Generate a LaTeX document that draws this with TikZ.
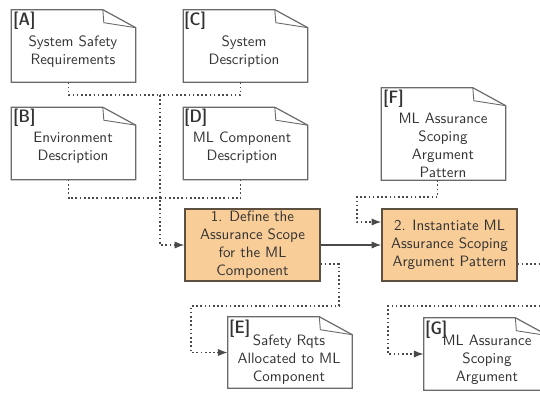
\documentclass[tikz,border=0pt]{standalone}
\usetikzlibrary{arrows.meta,calc}
\renewcommand{\familydefault}{\sfdefault}

\definecolor{inkgray}{HTML}{333333}
\definecolor{framegray}{HTML}{6A6A6A}
\definecolor{wirecolor}{HTML}{4A4A4A}
\definecolor{stepfill}{HTML}{F9CD98}
\definecolor{stepdraw}{HTML}{5E5040}

\tikzset{
  docframe/.style={rectangle, draw=none, inner sep=0pt,
    minimum width=82.7pt, minimum height=48pt},
  docline/.style={draw=framegray, line width=0.8pt},
  flapline/.style={draw=framegray, line width=0.6pt},
  doctext/.style={align=center, text=inkgray, inner sep=0pt, font=\normalsize},
  tagtext/.style={text=inkgray, inner sep=0pt, font=\large\fontseries{sbc}\selectfont},
  stepbox/.style={rectangle, draw=stepdraw, fill=stepfill, line width=0.8pt,
    minimum width=90pt, minimum height=48pt, align=center, text=inkgray,
    inner sep=0pt},
  dotwire/.style={draw=wirecolor, line width=0.9pt, dash pattern=on 1.1pt off 1.7pt},
  flow/.style={-{Latex[length=6.5pt,width=4.8pt]}},
  solidwire/.style={draw=wirecolor, line width=0.9pt}
}

% dog-eared document outline around a docframe node
\newcommand\docoutline[1]{%
  \draw[docline] (#1.north west) -- ([shift={(-33,0)}]#1.north east)
    -- ([shift={(0,18)}]#1.north east) -- (#1.south east)
    -- (#1.south west) -- cycle;
  \draw[flapline] ([shift={(-33,0)}]#1.north east)
    -- ([shift={(-32,13)}]#1.north east) -- ([shift={(0,18)}]#1.north east);
}

\begin{document}
\begin{tikzpicture}[x=0.6667pt, y=-0.6667pt]
\useasboundingbox (0,0) rectangle (540,394);
\clip (0,0) rectangle (540,394);

% input documents
\node[docframe] (A) at (73.5,46) {};
\node[docframe] (C) at (245.5,46) {};
\node[docframe] (B) at (73.5,143.5) {};
\node[docframe] (D) at (245.5,143.5) {};
\node[docframe, minimum height=61.3pt] (F) at (443.5,134) {};
\node[docframe, minimum height=47.3pt] (E) at (290,352.5) {};
\node[docframe] (G) at (486,354) {};

\foreach \d in {A,B,C,D,E,F,G} {\docoutline{\d}}

\node[tagtext, anchor=north west] (A-tag) at (13,12) {[A]};
\node[tagtext, anchor=north west] (B-tag) at (13,109) {[B]};
\node[tagtext, anchor=north west] (C-tag) at (184,12) {[C]};
\node[tagtext, anchor=north west] (D-tag) at (184,109) {[D]};
\node[tagtext, anchor=north west] (F-tag) at (383,90) {[F]};
\node[tagtext, anchor=north west] (E-tag) at (229,320) {[E]};
\node[tagtext, anchor=north west] (G-tag) at (425,321) {[G]};

\node[doctext] (A-txt) at (73,52) {System Safety\\Requirements};
\node[doctext] (C-txt) at (244,52) {System\\Description};
\node[doctext] (B-txt) at (73,148) {Environment\\Description};
\node[doctext] (D-txt) at (242,148) {ML Component\\Description};
\node[doctext] (F-txt) at (443,145) {ML Assurance\\Scoping\\Argument\\Pattern};
\node[doctext] (E-txt) at (289,360) {Safety Rqts\\Allocated to ML\\Component};
\node[doctext] (G-txt) at (487,360) {ML Assurance\\Scoping\\Argument};

% process steps
\node[stepbox] (P1) at (252.5,245) {1. Define the\\Assurance Scope\\for the ML\\Component};
\node[stepbox] (P2) at (449.5,245) {2. Instantiate ML\\Assurance Scoping\\Argument Pattern};

% junctions of the dotted input wires
\coordinate (j1) at (160,95);
\coordinate (j2) at (160,198);
\coordinate (k1) at (357,197);
\coordinate (e1) at (339,306);
\coordinate (e2) at (191,306);
\coordinate (g1) at (552,306);
\coordinate (g2) at (388,306);

\draw[dotwire] ([shift={(-5,0)}]A.south) |- (j1);
\draw[dotwire] ([shift={(-5,0)}]C.south) |- (j1);
\draw[dotwire] ([shift={(-5,0)}]B.south) |- (j2);
\draw[dotwire] ([shift={(-5,0)}]D.south) |- (j2);
\draw[dotwire, flow] (j1) |- (P1.west);

\draw[dotwire, flow] ([shift={(-6,0)}]F.south) |- (k1) |- ([shift={(0,-23)}]P2.west);

\draw[solidwire, flow] (P1.east) -- (P2.west);

\draw[dotwire, flow] ([shift={(0,19)}]P1.east) -| (e1) -- (e2) |- (E.west);
\draw[dotwire, flow] ([shift={(0,19)}]P2.east) -| (g1) -- (g2) |- (G.west);
\end{tikzpicture}
\end{document}
